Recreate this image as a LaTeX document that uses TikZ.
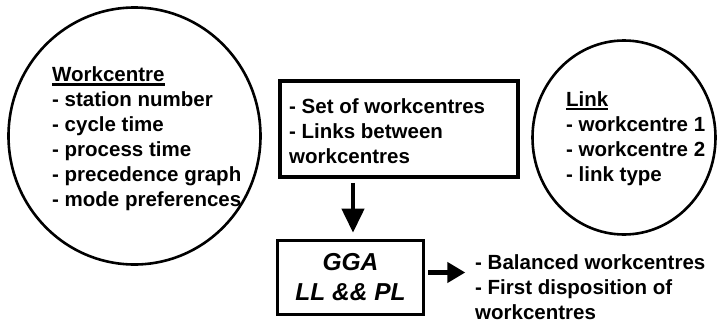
\documentclass[tikz,border=0pt]{standalone}
\usepackage{fontspec}
\setmainfont{Liberation Sans}
\usetikzlibrary{arrows.meta,shapes.geometric}
% heavy underline for the entity titles
\newcommand{\uline}[1]{{\setbox0\hbox{#1}\rlap{\rule[-4.2pt]{\wd0}{2.3pt}}\box0}}
\begin{document}
\begin{tikzpicture}[x=1pt,y=-1pt,
  font=\bfseries\fontsize{20.5}{25}\selectfont,
  entity/.style={draw, ellipse, line width=2.6pt, inner sep=0pt},
  block/.style={draw, rectangle, line width=3.6pt, inner sep=0pt},
  txt/.style={align=left, inner sep=0pt, anchor=north west},
  flow/.style={line width=4.2pt}]
\useasboundingbox (0,0) rectangle (717,324);

% data objects
\node[entity, minimum width=252pt, minimum height=257pt] (wc) at (134.5,136) {};
\node[entity, minimum width=183pt, minimum height=194pt] (lk) at (624,137.5) {};
\node[txt] (wctxt) at (52,66.5) {\uline{Workcentre}\\- station number\\- cycle time\\- process time\\- precedence graph\\- mode preferences};
\node[txt] (lktxt) at (566,91) {\uline{Link}\\- workcentre 1\\- workcentre 2\\- link type};

% input set and algorithm
\node[block, minimum width=238pt, minimum height=96pt] (set) at (399,129) {};
\node[txt] (settxt) at (289,98) {- Set of workcentres\\- Links between\\workcentres};
\node[block, minimum width=146pt, minimum height=74pt, align=center,
      font=\bfseries\itshape\fontsize{24.5}{30}\selectfont] (gga) at (350.5,277.5) {GGA\\LL \&\& PL};

% result
\node[txt] (out) at (475,254) {- Balanced workcentres\\- First disposition of\\workcentres};

% connectors
\draw[flow, -{Triangle[length=24pt,width=22pt]}]
  ([xshift=-46pt,yshift=-4pt]set.south) -- ([xshift=2.5pt,yshift=6pt]gga.north);
\draw[flow, -{Triangle[length=18pt,width=20pt]}]
  ([xshift=3pt,yshift=5pt]gga.east) -- ([xshift=40pt,yshift=5pt]gga.east);
\end{tikzpicture}
\end{document}
